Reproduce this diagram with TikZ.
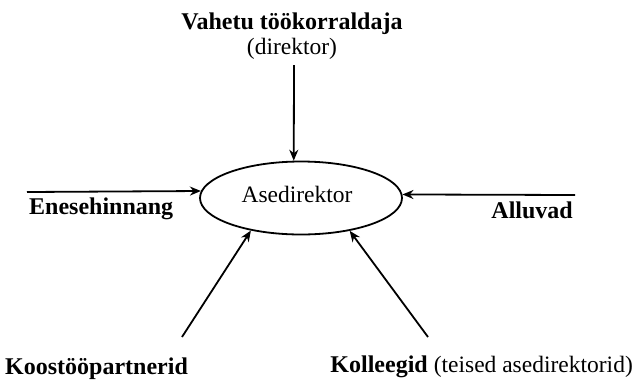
\documentclass[tikz,border=0pt]{standalone}
\usepackage{fontspec}
\setmainfont{Liberation Serif}
\usetikzlibrary{arrows.meta,shapes.geometric}
\begin{document}
\begin{tikzpicture}[x=1pt,y=-1pt,
  conn/.style={line width=1.8pt,-{Stealth[length=11pt,width=9pt]}},
  lbl/.style={inner sep=0pt,font=\fontsize{23.5}{27}\selectfont},
  blbl/.style={inner sep=0pt,font=\fontsize{24}{28}\selectfont\bfseries}]
\useasboundingbox (0,0) rectangle (635,384);
\node[draw,ellipse,line width=1.8pt,minimum width=202pt,minimum height=73pt,inner sep=0pt] (c) at (301,198) {};
\node[lbl] (ct) at (297,194) {Asedirektor};
\node[blbl,anchor=base] (boss) at (292,29) {Vahetu töökorraldaja};
\node[lbl,anchor=base] (boss2) at (292,54) {(direktor)};
\node[blbl,anchor=base west] (self) at (29,214) {Enesehinnang};
\node[blbl,anchor=base east] (sub) at (573,218) {Alluvad};
\node[blbl,anchor=base west] (coop) at (5,374) {Koostööpartnerid};
\node[lbl,anchor=base east] (col) at (633,372) {\fontsize{24}{28}\selectfont\textbf{Kolleegid} \fontsize{23.5}{27}\selectfont(teised asedirektorid)};
\coordinate (a1) at (294,65);
\coordinate (a2) at (27,192);
\coordinate (a3) at (575,195);
\coordinate (a4) at (182,337);
\coordinate (a5) at (428,337);
\draw[conn] (a1) -- (c.101);
\draw[conn] (a2) -- (c.176);
\draw[conn] (a3) -- (c.2);
\draw[conn] (a4) -- (c.213);
\draw[conn] (a5) -- (c.326);
\end{tikzpicture}
\end{document}
